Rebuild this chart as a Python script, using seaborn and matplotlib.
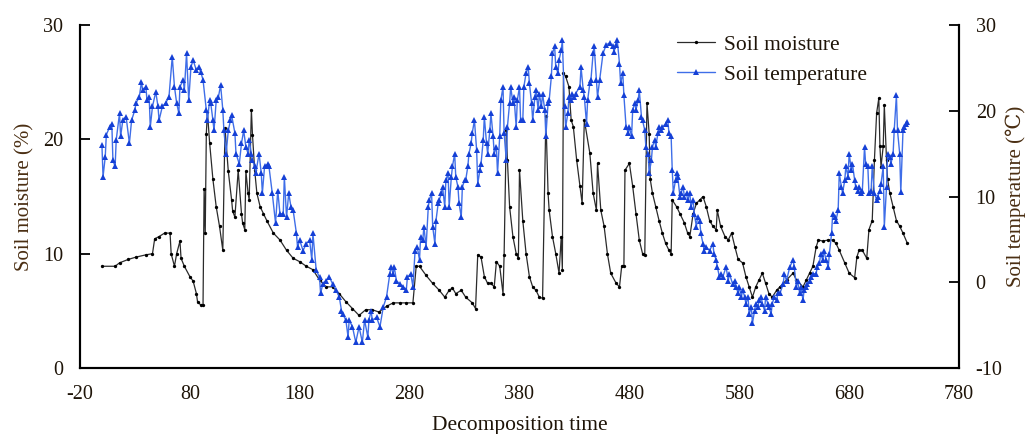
import matplotlib
matplotlib.use("Agg")
import matplotlib.pyplot as plt
import seaborn as sns
import pandas as pd

# soil moisture (%)
moist_day = [0, 12, 16, 24, 31, 40, 46, 48, 52, 57, 62, 63, 66, 68, 71, 72, 75, 80, 83, 86,
             87, 90, 92, 93, 94, 95, 96, 98, 101, 104, 107, 110, 112, 115, 118, 119, 121, 124, 127, 128,
             130, 131, 133, 134, 136, 137, 139, 141, 144, 147, 150, 156, 162, 168, 174, 180, 186, 192, 198, 204,
             210, 216, 222, 228, 234, 240, 246, 252, 259, 265, 271, 277, 283, 286, 289, 295, 301, 307, 312, 316,
             319, 322, 327, 331, 337, 340, 342, 345, 348, 351, 354, 357, 359, 362, 365, 366, 368, 369, 371, 374,
             377, 379, 380, 383, 386, 389, 392, 395, 398, 401, 404, 406, 407, 410, 413, 416, 418, 419, 420, 422,
             425, 427, 429, 432, 435, 437, 439, 444, 447, 450, 451, 454, 457, 460, 463, 468, 471, 473, 475, 476,
             480, 483, 486, 489, 492, 494, 496, 498, 499, 501, 504, 507, 510, 513, 516, 518, 519, 523, 526, 530,
             533, 535, 538, 541, 544, 547, 550, 553, 556, 559, 560, 563, 567, 570, 573, 576, 579, 583, 586, 589,
             592, 595, 598, 601, 604, 607, 610, 614, 617, 623, 629, 632, 638, 641, 644, 647, 650, 652, 656, 661,
             665, 668, 671, 676, 680, 685, 687, 689, 692, 696, 698, 701, 703, 705, 707, 708, 709, 711, 712, 714,
             715, 717, 720, 723, 726, 729, 733]
moist_val = [8.9, 8.9, 9.2, 9.5, 9.7, 9.9, 10.0, 11.3, 11.5, 11.8, 11.8, 10.0, 8.9, 10.0, 11.1, 9.6, 8.9, 8.0, 7.6, 6.5,
             5.8, 5.5, 5.5, 15.7, 11.8, 20.5, 22.4, 19.7, 16.5, 14.1, 12.4, 10.3, 21.0, 17.2, 14.7, 13.7, 13.2, 17.3, 13.5, 12.7,
             12.1, 17.2, 15.3, 14.7, 22.6, 20.4, 17.3, 15.3, 14.1, 13.5, 12.9, 11.8, 11.2, 10.3, 9.6, 9.3, 8.9, 8.6, 7.7, 7.1,
             7.1, 6.5, 5.8, 5.2, 4.6, 5.1, 5.1, 4.9, 5.4, 5.7, 5.7, 5.7, 5.7, 8.9, 8.9, 8.1, 7.4, 6.8, 6.2, 6.8,
             7.0, 6.5, 6.8, 6.2, 5.7, 5.2, 9.9, 9.7, 8.0, 7.4, 7.4, 7.1, 9.3, 8.9, 6.5, 9.9, 20.8, 18.2, 14.1, 11.5,
             10.0, 9.6, 17.3, 12.9, 10.0, 8.0, 7.1, 6.8, 6.2, 6.1, 22.0, 15.3, 13.8, 11.5, 10.0, 8.3, 11.5, 8.6, 25.8, 25.5,
             24.6, 21.7, 21.1, 18.2, 15.9, 14.4, 21.7, 18.8, 15.3, 13.8, 17.9, 13.8, 12.4, 10.0, 8.3, 7.4, 7.1, 8.9, 8.9, 17.3,
             17.9, 15.9, 13.5, 11.2, 10.0, 9.9, 23.2, 20.5, 16.5, 15.3, 14.1, 12.9, 11.8, 10.9, 10.3, 10.0, 14.7, 14.1, 13.5, 12.7,
             11.8, 11.5, 13.5, 14.4, 14.7, 15.0, 14.1, 12.9, 12.4, 12.1, 13.8, 12.4, 11.5, 11.2, 11.8, 10.6, 9.5, 9.2, 8.0, 7.1,
             6.2, 7.1, 7.7, 8.3, 7.4, 6.5, 6.2, 6.8, 7.1, 7.7, 8.3, 7.7, 7.1, 7.7, 8.3, 8.9, 10.6, 11.2, 11.1, 11.2,
             11.2, 10.9, 10.3, 9.2, 8.3, 7.9, 9.7, 10.3, 10.3, 9.6, 12.1, 12.9, 18.2, 22.3, 23.6, 19.4, 17.6, 19.4, 23.0, 18.2,
             16.5, 15.3, 14.1, 12.9, 12.4, 11.8, 10.9]

# soil temperature (degC)
temp_day = [0, 1, 3, 4, 7, 9, 10, 12, 13, 16, 17, 19, 22, 25, 27, 30, 31, 34, 36, 37,
            40, 41, 43, 44, 46, 49, 51, 52, 55, 58, 61, 64, 66, 68, 70, 71, 74, 75, 77, 79,
            81, 83, 86, 88, 90, 92, 95, 96, 98, 99, 101, 102, 104, 106, 108, 110, 111, 113, 115, 117,
            118, 121, 122, 125, 127, 129, 131, 133, 134, 136, 137, 139, 140, 143, 145, 146, 148, 151, 152, 155,
            158, 160, 162, 165, 166, 168, 170, 172, 174, 177, 178, 180, 183, 186, 189, 191, 192, 195, 198, 199,
            201, 204, 207, 210, 213, 216, 218, 219, 222, 224, 225, 228, 231, 234, 237, 239, 242, 243, 245, 246,
            250, 253, 256, 259, 262, 263, 265, 266, 268, 271, 274, 277, 278, 281, 283, 285, 287, 289, 290, 292,
            293, 295, 297, 298, 300, 301, 303, 304, 306, 307, 309, 310, 312, 313, 315, 316, 318, 319, 321, 322,
            324, 325, 327, 328, 330, 331, 333, 334, 336, 337, 339, 341, 342, 344, 345, 347, 348, 350, 351, 353,
            354, 356, 357, 359, 360, 362, 363, 365, 366, 368, 369, 371, 372, 374, 375, 377, 378, 380, 381, 383,
            384, 386, 388, 389, 391, 392, 394, 395, 397, 398, 400, 401, 403, 404, 406, 407, 409, 410, 412, 413,
            415, 416, 418, 419, 421, 422, 424, 425, 427, 428, 430, 431, 435, 436, 438, 439, 441, 442, 444, 445,
            447, 448, 450, 451, 453, 456, 459, 462, 465, 466, 468, 469, 471, 472, 474, 475, 477, 479, 480, 482,
            483, 485, 486, 488, 489, 491, 492, 494, 495, 497, 498, 500, 501, 503, 504, 506, 507, 509, 510, 513,
            515, 516, 518, 519, 520, 522, 523, 524, 526, 527, 529, 530, 532, 533, 535, 536, 538, 539, 541, 542,
            544, 545, 547, 548, 550, 553, 556, 557, 559, 560, 562, 563, 565, 568, 570, 571, 574, 576, 577, 579,
            580, 582, 583, 585, 586, 588, 589, 591, 592, 594, 595, 597, 598, 600, 601, 603, 604, 606, 607, 609,
            610, 612, 614, 615, 617, 620, 621, 623, 626, 629, 630, 632, 633, 635, 636, 638, 639, 641, 642, 644,
            645, 647, 650, 651, 653, 654, 656, 657, 659, 661, 662, 664, 665, 667, 668, 670, 671, 673, 674, 676,
            677, 679, 680, 682, 683, 685, 686, 688, 689, 691, 692, 694, 695, 697, 698, 700, 701, 703, 705, 706,
            708, 709, 711, 712, 714, 715, 717, 718, 720, 721, 723, 724, 726, 727, 729, 730, 732, 733]
temp_val = [16.0, 12.3, 14.6, 17.2, 18.1, 18.5, 14.2, 13.5, 16.6, 19.7, 17.0, 18.9, 19.3, 16.2, 18.9, 20.1, 20.9, 21.6, 23.4, 22.4,
            22.8, 21.2, 21.6, 18.1, 20.5, 22.2, 20.5, 18.9, 20.5, 20.9, 21.6, 26.3, 22.8, 20.9, 19.7, 22.8, 23.6, 22.4, 26.7, 21.2,
            25.1, 25.9, 24.7, 25.1, 24.5, 23.6, 20.1, 18.9, 21.2, 20.9, 18.9, 17.7, 21.2, 21.6, 23.0, 20.1, 17.7, 15.0, 17.7, 18.9,
            19.5, 17.4, 15.0, 13.8, 16.2, 17.7, 15.8, 15.0, 16.6, 15.0, 14.2, 13.5, 12.7, 15.0, 12.7, 10.4, 13.5, 13.8, 13.5, 10.4,
            6.9, 10.7, 8.0, 8.0, 12.3, 7.6, 10.4, 8.8, 8.4, 5.7, 4.1, 4.9, 3.7, 4.5, 4.9, 2.6, 5.7, 1.4, 0.6, -1.3,
            -0.2, 0.2, 0.6, -0.2, -0.9, -1.7, -3.3, -3.7, -4.4, -6.4, -4.4, -5.2, -7.0, -5.2, -7.0, -4.4, -6.4, -4.4, -3.3, -4.4,
            -4.1, -5.2, -2.9, -1.7, 1.0, 1.8, 1.0, 1.8, 0.2, -0.2, -0.5, -0.9, 0.6, 1.0, -0.5, 3.7, 4.1, 2.6, 5.3, 4.9,
            6.5, 4.1, 8.8, 9.6, 10.4, 6.5, 4.5, 7.2, 9.2, 9.6, 10.4, 11.1, 8.8, 11.9, 12.7, 8.8, 12.3, 13.5, 15.0, 12.3,
            11.1, 9.2, 7.6, 11.1, 11.9, 11.9, 13.5, 15.0, 16.2, 17.4, 18.9, 15.4, 11.5, 13.1, 13.8, 16.6, 19.3, 16.2, 15.0, 17.7,
            19.7, 17.0, 15.0, 15.8, 12.7, 17.0, 21.2, 22.8, 17.4, 14.2, 18.1, 20.9, 22.8, 20.9, 21.6, 18.1, 21.2, 22.8, 18.9, 18.9,
            22.8, 24.4, 25.1, 23.2, 20.9, 18.9, 21.6, 22.4, 20.1, 22.0, 20.5, 22.0, 20.1, 17.0, 20.9, 21.2, 24.0, 26.7, 27.5, 25.1,
            24.4, 25.9, 27.1, 28.2, 20.5, 18.1, 19.7, 21.6, 21.2, 22.0, 21.6, 22.0, 22.8, 25.1, 22.4, 21.6, 18.5, 21.2, 23.2, 23.6,
            26.7, 27.5, 23.6, 21.6, 23.6, 26.7, 27.7, 27.9, 27.5, 26.9, 27.7, 28.2, 25.5, 23.2, 24.4, 21.8, 18.1, 17.4, 18.1, 17.0,
            20.1, 20.9, 20.1, 21.2, 22.4, 19.3, 18.9, 17.7, 15.8, 15.0, 12.7, 14.2, 15.8, 16.6, 15.8, 17.4, 18.1, 17.7, 18.1, 18.5,
            18.9, 17.4, 17.0, 13.1, 10.4, 11.9, 12.7, 12.3, 10.0, 10.4, 11.1, 10.0, 10.4, 9.6, 10.4, 8.8, 9.6, 8.0, 6.5, 7.6,
            7.2, 5.7, 4.5, 3.7, 4.1, 3.7, 4.5, 3.3, 2.6, 1.8, 0.6, 1.0, 0.6, 1.8, 0.2, 1.0, -0.2, 0.2, -0.5, -1.3,
            -0.5, -1.7, -0.9, -1.7, -2.5, -1.7, -3.7, -2.9, -4.8, -3.3, -2.5, -2.9, -2.1, -1.7, -2.5, -3.3, -1.7, -2.5, -2.9, -3.7,
            -2.5, -1.7, -2.1, -1.3, -1.3, -0.2, 1.0, 0.2, 1.8, 2.6, 1.8, -0.5, 0.2, -1.3, -0.5, -2.1, -0.9, -0.5, -0.2, 0.2,
            0.6, 1.0, 1.0, 1.8, 2.2, 3.3, 2.6, 3.7, 2.6, 1.8, 3.3, 5.7, 8.0, 7.6, 7.2, 8.4, 12.7, 11.1, 10.4, 11.9,
            13.5, 12.3, 15.0, 13.1, 13.8, 11.9, 11.1, 10.7, 11.1, 10.4, 10.7, 15.8, 13.8, 13.5, 10.4, 10.7, 13.5, 10.4, 9.6, 10.0,
            10.7, 11.5, 13.5, 6.5, 11.1, 15.0, 14.6, 13.8, 15.0, 17.7, 21.8, 17.7, 15.0, 10.5, 17.7, 18.1, 18.5, 18.7]

x_ticks = [-20, 80, 180, 280, 380, 480, 580, 680, 780]

moist = pd.DataFrame({"day": moist_day, "val": moist_val})
temp = pd.DataFrame({"day": temp_day, "val": temp_val})

sns.set_style("white")
plt.rcParams["font.family"] = ["Liberation Serif", "DejaVu Serif"]
plt.rcParams["axes.unicode_minus"] = False

fig, ax = plt.subplots(figsize=(10.33, 4.34), dpi=100)
fig.subplots_adjust(left=0.0774, right=0.9284, bottom=0.152, top=0.9424)
ax2 = ax.twinx()

sns.lineplot(data=moist, x="day", y="val", ax=ax, estimator=None, color="#2b2b2b",
             linewidth=0.9, marker="o", markersize=2.4, markeredgewidth=0,
             markerfacecolor="black", label="Soil moisture", legend=False)
sns.lineplot(data=temp, x="day", y="val", ax=ax2, estimator=None, color="#3f6ee8",
             linewidth=1.0, marker="^", markersize=3.8, markeredgewidth=0,
             markerfacecolor="#1540d6", label="Soil temperature", legend=False)

ax.set_xlim(-20, 780)
ax.set_ylim(0, 30)
ax2.set_ylim(-10, 30)
ax.set_xticks(x_ticks)
ax.set_yticks([0, 10, 20, 30])
ax2.set_yticks([-10, 0, 10, 20, 30])

txt = "#1e1408"
lab = "#4a2e12"
ax.set_xlabel("Decomposition time", fontsize=15.5, color=txt, labelpad=9)
ax.set_ylabel("Soil moisture (%)", fontsize=15, color=lab, labelpad=6)
ax2.set_ylabel("Soil temperature (\u2103)", fontsize=15, color=lab, labelpad=2)

for a in (ax, ax2):
    a.spines["top"].set_visible(False)
    for s in ("left", "right", "bottom"):
        a.spines[s].set_color("black")
        a.spines[s].set_linewidth(1.5)
    a.tick_params(direction="in", length=7, width=1.3, colors="black",
                  labelsize=14.5, labelcolor=txt)
ax.tick_params(axis="y", pad=12)
ax2.tick_params(axis="y", pad=12)
ax.tick_params(axis="x", pad=12)
ax.grid(False)
ax2.grid(False)

h1, l1 = ax.get_legend_handles_labels()
h2, l2 = ax2.get_legend_handles_labels()
fig.legend(h1 + h2, l1 + l2, loc="upper left", bbox_to_anchor=(0.655, 0.92),
           frameon=False, fontsize=15.5, handlelength=1.8, handletextpad=0.4,
           borderpad=0, borderaxespad=0, labelspacing=0.45, labelcolor=txt)

fig.savefig("out.png", dpi=100)
